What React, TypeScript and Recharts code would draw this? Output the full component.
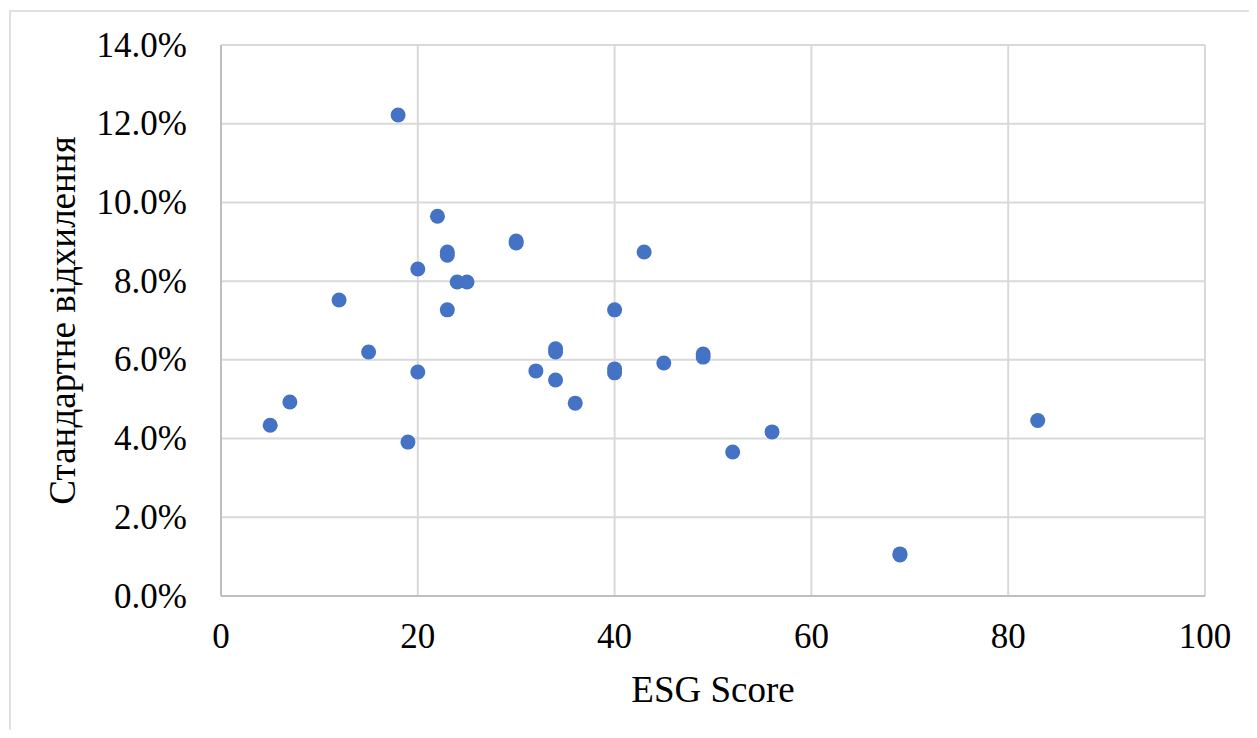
import { ScatterChart, Scatter, XAxis, YAxis, CartesianGrid, Label } from 'recharts'

const esgScores = [5, 7, 12, 15, 18, 19, 20, 20, 22, 23, 23, 23, 24, 25, 30, 30, 32, 34, 34, 34, 36, 40, 40, 40, 43, 45, 49, 49, 52, 56, 69, 69, 83]
const stdDevs = [
  0.0434, 0.0493, 0.0752, 0.062, 0.1222, 0.0391, 0.0831, 0.0569, 0.0965, 0.0874, 0.0866,
  0.0727, 0.0798, 0.0798, 0.0902, 0.0897, 0.0572, 0.0628, 0.062, 0.0549, 0.049, 0.0727,
  0.0577, 0.0567, 0.0874, 0.0592, 0.0615, 0.0607, 0.0366, 0.0417, 0.0107, 0.0104, 0.0446,
]
const xTicks = [0, 20, 40, 60, 80, 100]
const yTicks = [0, 0.02, 0.04, 0.06, 0.08, 0.1, 0.12, 0.14]

const points = esgScores.map((x, i) => ({ x, y: stdDevs[i] }))

const font = '"Liberation Serif", "Times New Roman", serif'

const Dot = (props: any) => <circle cx={props.cx} cy={props.cy} r={7.5} fill="#4472C4" />

const Tick = (props: any) => {
  const { x, y, payload, textAnchor, format } = props
  return (
    <text
      x={x}
      y={y}
      textAnchor={textAnchor}
      dominantBaseline={props.orientation === 'bottom' ? 'hanging' : 'central'}
      style={{ fontFamily: font, fontSize: 35, fill: '#000' }}
    >
      {format ? format(payload.value) : payload.value}
    </text>
  )
}

const pct = (v: number) => (v * 100).toFixed(1) + '%'

export default function App() {
  return (
    <div style={{ position: 'relative', width: 1257, height: 738, margin: -8, overflow: 'hidden', background: '#fff', fontFamily: font }}>
      <div
        style={{
          position: 'absolute',
          left: 9,
          top: 10,
          width: 1300,
          height: 800,
          border: '2px solid #e0e0e0',
        }}
      />
      <ScatterChart
        width={1257}
        height={738}
        margin={{ top: 45, right: 52, left: 0, bottom: 0 }}
        style={{ position: 'absolute', left: 0, top: 0 }}
      >
        <CartesianGrid stroke="#d9d9d9" strokeWidth={2} />
        <XAxis
          type="number"
          dataKey="x"
          domain={[0, 100]}
          ticks={xTicks}
          tickLine={false}
          tickSize={0}
          tickMargin={27}
          axisLine={{ stroke: '#bfbfbf', strokeWidth: 2 }}
          tick={<Tick />}
          height={142}
        >
          <Label
            value="ESG Score"
            position="insideTop"
            offset={80}
            style={{ fontFamily: font, fontSize: 37, fill: '#000' }}
          />
        </XAxis>
        <YAxis
          type="number"
          dataKey="y"
          domain={[0, 0.14]}
          ticks={yTicks}
          tickLine={false}
          tickSize={0}
          tickMargin={34}
          axisLine={{ stroke: '#bfbfbf', strokeWidth: 2 }}
          tick={<Tick format={pct} />}
          width={221}
        >
          <Label
            value="Стандартне відхилення"
            angle={-90}
            position="insideLeft"
            offset={67}
            dx={-5}
            style={{ fontFamily: font, fontSize: 37, fill: '#000', textAnchor: 'middle' }}
          />
        </YAxis>
        <Scatter data={points} shape={Dot} isAnimationActive={false} />
      </ScatterChart>
    </div>
  )
}
